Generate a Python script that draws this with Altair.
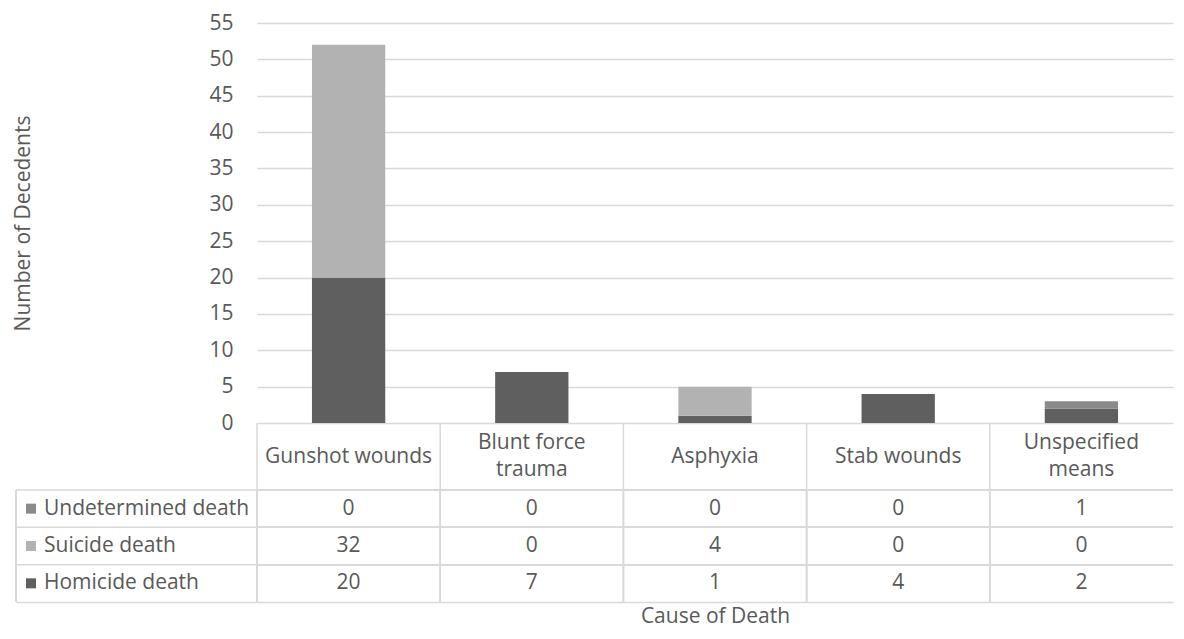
import altair as alt
import pandas as pd

categories = ["Gunshot wounds", "Blunt force trauma", "Asphyxia", "Stab wounds", "Unspecified means"]
header_labels = ["Gunshot wounds", "Blunt force\ntrauma", "Asphyxia", "Stab wounds", "Unspecified\nmeans"]
series = ["Undetermined death", "Suicide death", "Homicide death"]  # table order, top to bottom
homicide = [20, 7, 1, 4, 2]
suicide = [32, 0, 4, 0, 0]
undetermined = [0, 0, 0, 0, 1]
series_colors = ["#8a8a8a", "#b2b2b2", "#5f5f5f"]
y_ticks = [0, 5, 10, 15, 20, 25, 30, 35, 40, 45, 50, 55]

FONT = "Open Sans"
TEXT = "#595959"
GRID = "#d9d9d9"
FS = 21
LH = 27.5

W_LEFT = 241
W_MAIN = 916
H_BARS = 400
H_HEAD = 67
H_ROWS = 112

rows = []
for s, vals, order in [("Homicide death", homicide, 0),
                       ("Suicide death", suicide, 1),
                       ("Undetermined death", undetermined, 2)]:
    for c, v in zip(categories, vals):
        rows.append({"cause": c, "series": s, "value": v, "stack": order})
df = pd.DataFrame(rows)
head_df = pd.DataFrame({"cause": categories, "label": header_labels, "part": ["h"] * len(categories)})
leg_df = pd.DataFrame({"series": series, "col": ["legend"] * len(series)})

color_scale = alt.Scale(domain=series, range=series_colors)
band0 = alt.Scale(paddingInner=0, paddingOuter=0)

# ---------- bar chart ----------
bars = alt.Chart(df).mark_bar().encode(
    x=alt.X("cause:N", sort=categories,
            scale=alt.Scale(paddingInner=0.6, paddingOuter=0.3), axis=None),
    y=alt.Y("value:Q", stack="zero",
            scale=alt.Scale(domain=[0, 55], nice=False),
            axis=alt.Axis(values=y_ticks, title="Number of Decedents",
                          grid=True, gridColor=GRID, gridWidth=1.5,
                          domain=False, ticks=False, labelPadding=24,
                          labelFont=FONT, labelFontSize=FS, labelColor=TEXT,
                          titleFont=FONT, titleFontSize=FS, titleColor=TEXT,
                          titleFontWeight="normal", titlePadding=175)),
    color=alt.Color("series:N", scale=color_scale, legend=None),
    order=alt.Order("stack:Q"),
).properties(width=W_MAIN, height=H_BARS)

# ---------- header row ----------
head_lines = alt.Chart(head_df).mark_rule(color=GRID, strokeWidth=1.5).encode(
    x=alt.X("cause:N", sort=categories, bandPosition=0, scale=band0, axis=None)
)
head_y = alt.Y("part:N", axis=None, scale=band0)
head_text1 = alt.Chart(head_df).transform_filter(
    "indexof(datum.label, '\\n') < 0"
).mark_text(font=FONT, fontSize=FS, color=TEXT, baseline="middle").encode(
    x=alt.X("cause:N", sort=categories, scale=band0, axis=None),
    y=head_y, text="label:N",
)
head_text2 = alt.Chart(head_df).transform_filter(
    "indexof(datum.label, '\\n') >= 0"
).mark_text(font=FONT, fontSize=FS, color=TEXT, baseline="middle",
            lineBreak="\n", lineHeight=LH, dy=-LH / 2).encode(
    x=alt.X("cause:N", sort=categories, scale=band0, axis=None),
    y=head_y, text="label:N",
)
header = alt.layer(head_lines, head_text1, head_text2).properties(width=W_MAIN, height=H_HEAD)

# ---------- data rows ----------
row_y = alt.Y("series:N", sort=series, scale=band0, axis=None)
row_y0 = alt.Y("series:N", sort=series, bandPosition=0, scale=band0, axis=None)
x_axis = alt.Axis(title="Cause of Death", labels=False, ticks=False,
                  domain=True, domainColor=GRID, domainWidth=1.5,
                  titleFont=FONT, titleFontSize=FS, titleColor=TEXT,
                  titleFontWeight="normal", titlePadding=3)

cell_v = alt.Chart(df).mark_rule(color=GRID, strokeWidth=1.5).encode(
    x=alt.X("cause:N", sort=categories, bandPosition=0, scale=band0, axis=x_axis)
)
cell_h = alt.Chart(df).mark_rule(color=GRID, strokeWidth=1.5).encode(y=row_y0)
cell_text = alt.Chart(df).mark_text(
    font=FONT, fontSize=FS, color=TEXT, baseline="middle"
).encode(
    x=alt.X("cause:N", sort=categories, scale=band0, axis=x_axis),
    y=row_y, text="value:Q",
)
table = alt.layer(cell_v, cell_h, cell_text).properties(width=W_MAIN, height=H_ROWS)

# ---------- legend column ----------
leg_axis = alt.Axis(title=None, labels=False, ticks=False,
                    domain=True, domainColor=GRID, domainWidth=1.5)
leg_v = alt.Chart(leg_df).mark_rule(color=GRID, strokeWidth=1.5).encode(
    x=alt.X("col:N", bandPosition=0, scale=band0, axis=leg_axis)
)
leg_h = alt.Chart(leg_df).mark_rule(color=GRID, strokeWidth=1.5).encode(y=row_y0)
leg_sq = alt.Chart(leg_df).mark_square(size=100, opacity=1).encode(
    x=alt.value(15), y=row_y,
    color=alt.Color("series:N", scale=color_scale, legend=None),
)
leg_txt = alt.Chart(leg_df).mark_text(
    font=FONT, fontSize=FS, color=TEXT, align="left", baseline="middle"
).encode(x=alt.value(28), y=row_y, text="series:N")
legend = alt.layer(leg_v, leg_h, leg_sq, leg_txt).properties(width=W_LEFT, height=H_ROWS)


def blank(h):
    return alt.Chart(pd.DataFrame({"a": [""]})).mark_text().encode(
        text="a:N", x=alt.value(0), y=alt.value(0)
    ).properties(width=W_LEFT, height=h)


chart = alt.concat(
    blank(H_BARS), bars,
    blank(H_HEAD), header,
    legend, table,
    columns=2, spacing=0, bounds="flush", align="each",
).properties(
    padding={"left": 4, "top": 4, "right": 0, "bottom": 2}
).configure(font=FONT).configure_view(stroke=None)

chart.save("out.html", embed_options={"renderer": "svg", "actions": False})
